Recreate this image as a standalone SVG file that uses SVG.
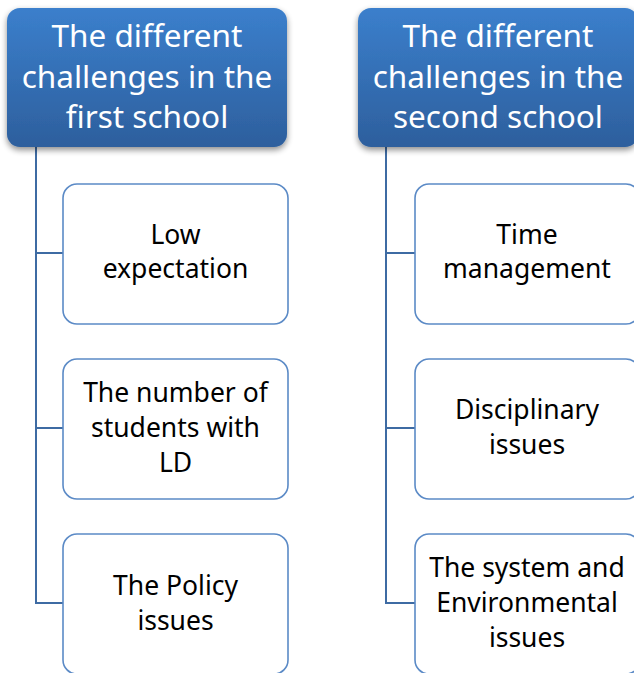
<svg xmlns="http://www.w3.org/2000/svg" width="634" height="673" viewBox="0 0 634 673">
<defs>
<linearGradient id="hg" x1="0" y1="0" x2="0" y2="1">
<stop offset="0" stop-color="#3b7fcc"/>
<stop offset="1" stop-color="#2d5f9d"/>
</linearGradient>
<filter id="sh" x="-10%" y="-10%" width="120%" height="130%">
<feGaussianBlur in="SourceAlpha" stdDeviation="3"/>
<feOffset dx="0" dy="3" result="b"/>
<feComponentTransfer><feFuncA type="linear" slope="0.45"/></feComponentTransfer>
<feMerge><feMergeNode/><feMergeNode in="SourceGraphic"/></feMerge>
</filter>
</defs>
<style>
.hdr{fill:url(#hg);}
.ht{font-family:"Noto Sans","Open Sans",sans-serif;font-size:31.5px;fill:#ffffff;text-anchor:middle;}
.box{fill:#ffffff;stroke:#5b8ac6;stroke-width:1.6;}
.bt{font-family:"Noto Sans","Open Sans",sans-serif;font-size:26.5px;fill:#000000;text-anchor:middle;}
.con{fill:none;stroke:#3e6ba3;stroke-width:2;}
</style>
<g id="connectors">
<path class="con" d="M36 147 V603 H63 M36 253 H63 M36 428 H63"/>
<path class="con" d="M386 147 V603 H415 M386 253 H415 M386 428 H415"/>
</g>
<g id="header1">
<rect class="hdr" x="7" y="8" width="280" height="139" rx="13" filter="url(#sh)"/>
<text class="ht" x="147" y="47">The different</text>
<text class="ht" x="147" y="88">challenges in the</text>
<text class="ht" x="147" y="128">first school</text>
</g>
<g id="header2">
<rect class="hdr" x="358" y="8" width="280" height="139" rx="13" filter="url(#sh)"/>
<text class="ht" x="498" y="47">The different</text>
<text class="ht" x="498" y="88">challenges in the</text>
<text class="ht" x="498" y="128">second school</text>
</g>
<g id="n1">
<rect class="box" x="63" y="184" width="225" height="140" rx="14"/>
<text class="bt" x="175.5" y="244">Low</text>
<text class="bt" x="175.5" y="278">expectation</text>
</g>
<g id="n2">
<rect class="box" x="63" y="359" width="225" height="140" rx="14"/>
<text class="bt" x="175.5" y="402">The number of</text>
<text class="bt" x="175.5" y="437">students with</text>
<text class="bt" x="175.5" y="472">LD</text>
</g>
<g id="n3">
<rect class="box" x="63" y="534" width="225" height="140" rx="14"/>
<text class="bt" x="175.5" y="595">The Policy</text>
<text class="bt" x="175.5" y="630">issues</text>
</g>
<g id="n4">
<rect class="box" x="415" y="184" width="225" height="140" rx="14"/>
<text class="bt" x="527" y="244">Time</text>
<text class="bt" x="527" y="278">management</text>
</g>
<g id="n5">
<rect class="box" x="415" y="359" width="225" height="140" rx="14"/>
<text class="bt" x="527" y="419">Disciplinary</text>
<text class="bt" x="527" y="454">issues</text>
</g>
<g id="n6">
<rect class="box" x="415" y="534" width="225" height="140" rx="14"/>
<text class="bt" x="527" y="577">The system and</text>
<text class="bt" x="527" y="612">Environmental</text>
<text class="bt" x="527" y="647">issues</text>
</g>
</svg>
